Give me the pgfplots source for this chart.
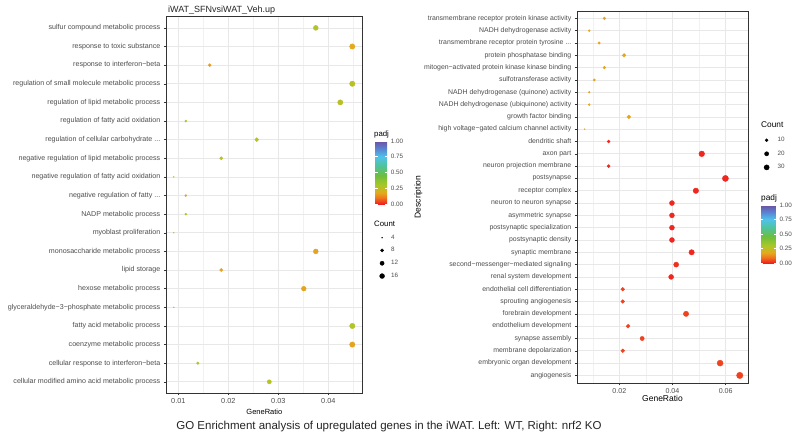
\documentclass[border=0pt]{standalone}
\usepackage{pgfplots}
\pgfplotsset{compat=1.18}
\usepackage{pgfplotstable}
\usepackage{fontspec}
\setmainfont{Liberation Sans}

\definecolor{tickgray}{RGB}{77,77,77}
\definecolor{gridgray}{RGB}{232,232,232}
\definecolor{framegray}{RGB}{51,51,51}
\newcommand{\trunc}{.\kern0pt..}

\pgfplotsset{
  colormap={padjmap}{rgb255(0pt)=(240,30,30); rgb255(10pt)=(240,120,30); rgb255(18pt)=(228,170,30);
    rgb255(30pt)=(170,200,40); rgb255(45pt)=(110,190,60); rgb255(60pt)=(80,195,150);
    rgb255(75pt)=(80,195,235); rgb255(88pt)=(90,130,210); rgb255(100pt)=(110,80,160)},
  goplot/.style={
    scale only axis, anchor=north west,
    axis line style={framegray, line width=0.5pt},
    tick pos=left, tick align=outside, major tick length=2.2pt, minor tick length=0pt,
    tick style={framegray, line width=0.4pt},
    xmajorgrids, xminorgrids, ymajorgrids,
    major grid style={gridgray, line width=0.7pt},
    minor grid style={gridgray!60, line width=0.35pt},
    ticklabel style={text=tickgray},
    scaled x ticks=false,
    /pgf/number format/assume math mode=true,
    colormap name=padjmap, point meta min=0, point meta max=1,
    legend style={draw=none, fill=none, anchor=north west,
      font=\fontsize{6.3}{7}\selectfont, text=tickgray, legend cell align=left,
      nodes={inner sep=1pt}},
    legend image code/.code={\path[draw=none, fill=none] (-4pt,-2.5pt) rectangle (8pt,2.5pt);
      \draw[##1] plot coordinates {(0pt,0pt)};},
  },
  padjbar/.style={
    scale only axis, anchor=north west,
    ytick={0,0.25,0.5,0.75,1}, yticklabels={0.00,0.25,0.50,0.75,1.00},
    axis line style={draw=none}, tick style={white, line width=0.6pt},
    major tick length=2.4pt, tick align=inside, ytick pos=both, yticklabel pos=right,
    yticklabel style={font=\fontsize{6.3}{7}\selectfont, text=tickgray},
  },
}

% left panel: WT
\pgfplotstableread{
y gr count padj
20 0.0375 16 0.28
19 0.0448 19 0.18
18 0.0163 7 0.16
17 0.0448 19 0.27
16 0.0424 18 0.27
15 0.0115 5 0.30
14 0.0257 11 0.27
13 0.0186 8 0.28
12 0.0091 4 0.28
11 0.0115 5 0.17
10 0.0115 5 0.30
9 0.0091 4 0.25
8 0.0375 16 0.17
7 0.0186 8 0.17
6 0.0351 15 0.17
5 0.0091 4 0.27
4 0.0448 19 0.28
3 0.0448 19 0.17
2 0.0139 6 0.30
1 0.0282 12 0.28
}\lefttab

% right panel: nrf2 KO
\pgfplotstableread{
y gr count padj
30 0.0144 8 0.17
29 0.0087 5 0.17
28 0.0124 7 0.17
27 0.0218 12 0.17
26 0.0144 8 0.17
25 0.0106 6 0.17
24 0.0087 5 0.17
23 0.0087 5 0.17
22 0.0236 13 0.17
21 0.0070 4 0.17
20 0.0160 9 0.01
19 0.0510 29 0.01
18 0.0160 9 0.01
17 0.0599 34 0.01
16 0.0488 27 0.01
15 0.0398 22 0.01
14 0.0398 22 0.01
13 0.0398 22 0.01
12 0.0398 22 0.01
11 0.0472 26 0.01
10 0.0414 23 0.02
9 0.0395 22 0.01
8 0.0213 12 0.04
7 0.0213 12 0.04
6 0.0451 25 0.04
5 0.0233 13 0.04
4 0.0286 16 0.04
3 0.0213 12 0.04
2 0.0579 32 0.04
1 0.0653 37 0.04
}\righttab

\begin{document}
\begin{tikzpicture}
\useasboundingbox[fill=white] (0pt,0pt) rectangle (800pt,-436pt);

\begin{axis}[goplot, at={(166pt,-16.7pt)}, width=196.7pt, height=376.3pt,
  xmin=0.00754, xmax=0.04688, ymin=0.4, ymax=20.6,
  xtick={0.01,0.02,0.03,0.04}, xticklabels={0.01,0.02,0.03,0.04},
  minor xtick={0.015,0.025,0.035,0.045},
  ytick={1,...,20},
  xticklabel style={font=\fontsize{7.3}{8}\selectfont},
  yticklabel style={font=\fontsize{7.1}{8}\selectfont},
  yticklabels={cellular modified amino acid metabolic process,
    cellular response to interferon−beta, coenzyme metabolic process,
    fatty acid metabolic process, glyceraldehyde−3−phosphate metabolic process,
    hexose metabolic process, lipid storage, monosaccharide metabolic process,
    myoblast proliferation, NADP metabolic process, negative regulation of fatty \trunc,
    negative regulation of fatty acid oxidation, negative regulation of lipid metabolic process,
    regulation of cellular carbohydrate \trunc, regulation of fatty acid oxidation,
    regulation of lipid metabolic process, regulation of small molecule metabolic process,
    response to interferon−beta, response to toxic substance, sulfur compound metabolic process},
  xlabel={GeneRatio}, xlabel style={font=\fontsize{7.5}{8}\selectfont, yshift=2pt},
  title={iWAT\_SFNvsiWAT\_Veh.up},
  title style={anchor=south west, at={(0,1)}, font=\fontsize{9}{10}\selectfont, text=black!85,
    inner sep=2pt, yshift=-6pt},
  colorbar, colorbar style={padjbar, at={(parent axis.north east)}, xshift=4pt, yshift=-124.3pt,
    width=12pt, height=63pt},
  legend style={at={(1.062,0.429)}, row sep=4.9pt},
]
\addplot[scatter, only marks, mark=*, scatter src=explicit,
  scatter/use mapped color={draw=mapped color, fill=mapped color},
  visualization depends on={\thisrow{count} \as \cnt},
  scatter/@pre marker code/.append style={/tikz/mark size={0.45+2.25*sqrt((\cnt-4)/15)}},
  forget plot] table[x=gr, y=y, meta=padj] {\lefttab};
\addlegendimage{only marks, mark=*, black, mark size=0.45pt}\addlegendentry{4}
\addlegendimage{only marks, mark=*, black, mark size=1.6pt}\addlegendentry{8}
\addlegendimage{only marks, mark=*, black, mark size=2.1pt}\addlegendentry{12}
\addlegendimage{only marks, mark=*, black, mark size=2.45pt}\addlegendentry{16}
\end{axis}
\node[anchor=base west, font=\fontsize{7.8}{8}\selectfont, inner sep=0pt] at (374pt,-136.5pt) {padj};
\node[anchor=base west, font=\fontsize{7.8}{8}\selectfont, inner sep=0pt] at (374pt,-226pt) {Count};

\begin{axis}[goplot, at={(577pt,-11pt)}, width=171pt, height=371.8pt,
  xmin=0.0041, xmax=0.0684, ymin=0.4, ymax=30.6,
  xtick={0.02,0.04,0.06}, xticklabels={0.02,0.04,0.06},
  minor xtick={0.01,0.03,0.05},
  ytick={1,...,30},
  xticklabel style={font=\fontsize{7.1}{8}\selectfont},
  yticklabel style={font=\fontsize{6.9}{8}\selectfont},
  yticklabels={angiogenesis, embryonic organ development, membrane depolarization,
    synapse assembly, endothelium development, forebrain development,
    sprouting angiogenesis, endothelial cell differentiation, renal system development,
    second−messenger−mediated signaling, synaptic membrane, postsynaptic density,
    postsynaptic specialization, asymmetric synapse, neuron to neuron synapse,
    receptor complex, postsynapse, neuron projection membrane, axon part, dendritic shaft,
    high voltage−gated calcium channel activity, growth factor binding,
    NADH dehydrogenase (ubiquinone) activity, NADH dehydrogenase (quinone) activity,
    sulfotransferase activity, mitogen−activated protein kinase kinase binding,
    protein phosphatase binding, transmembrane receptor protein tyrosine \trunc,
    NADH dehydrogenase activity, transmembrane receptor protein kinase activity},
  xlabel={GeneRatio}, xlabel style={font=\fontsize{8.5}{9}\selectfont, yshift=5pt},
  ylabel={Description}, ylabel style={font=\fontsize{8.5}{9}\selectfont}, ylabel shift=-5pt,
  colorbar, colorbar style={padjbar, at={(parent axis.north east)}, xshift=4.5pt, yshift=-194pt,
    width=15pt, height=58pt},
  legend style={at={(1.067,0.669)}, row sep=5.7pt},
]
\addplot[scatter, only marks, mark=*, scatter src=explicit,
  scatter/use mapped color={draw=mapped color, fill=mapped color},
  visualization depends on={\thisrow{count} \as \cnt},
  scatter/@pre marker code/.append style={/tikz/mark size={0.45+2.75*sqrt((\cnt-4)/33)}},
  forget plot] table[x=gr, y=y, meta=padj] {\righttab};
\addlegendimage{only marks, mark=*, black, mark size=1.5pt}\addlegendentry{\hspace{2pt}10}
\addlegendimage{only marks, mark=*, black, mark size=2.1pt}\addlegendentry{\hspace{2pt}20}
\addlegendimage{only marks, mark=*, black, mark size=2.6pt}\addlegendentry{\hspace{2pt}30}
\end{axis}
\node[anchor=base west, font=\fontsize{8.3}{9}\selectfont, inner sep=0pt] at (761pt,-200pt) {padj};
\node[anchor=base west, font=\fontsize{8.3}{9}\selectfont, inner sep=0pt] at (761pt,-127pt) {Count};

\node[font=\fontsize{11.5}{13}\selectfont, text=black!85] at (389pt,-427pt)
  {GO Enrichment analysis of upregulated genes in the iWAT. Left: WT, Right: nrf2 KO};
\end{tikzpicture}
\end{document}
